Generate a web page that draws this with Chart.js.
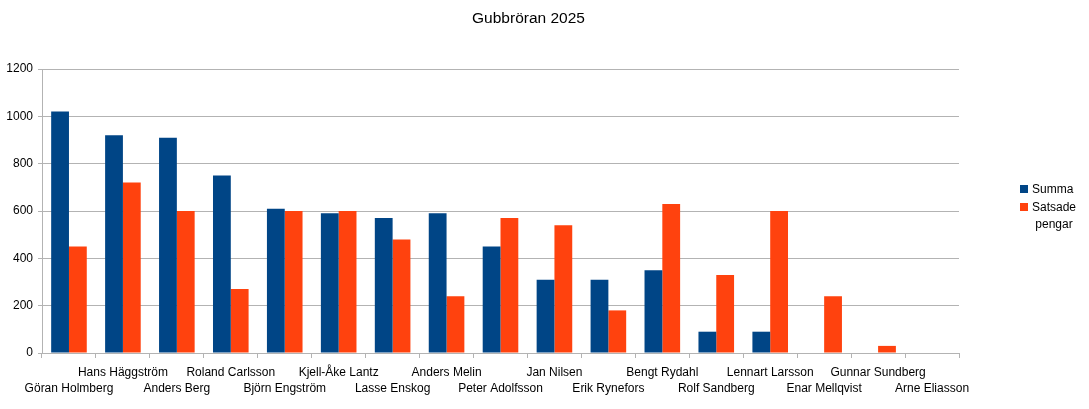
<!DOCTYPE html>
<html>
<head>
<meta charset="utf-8">
<script src="https://cdn.jsdelivr.net/npm/chart.js@4/dist/chart.umd.min.js"></script>
<style>
html,body{margin:0;padding:0;background:#fff;}
#wrap{position:relative;width:1089px;height:409px;}
</style>
</head>
<body>
<div id="wrap"><canvas id="c"></canvas></div>
<script>
const chartTitle = 'Gubbröran 2025';
const categories = ['Göran Holmberg','Hans Häggström','Anders Berg','Roland Carlsson','Björn Engström','Kjell-Åke Lantz','Lasse Enskog','Anders Melin','Peter Adolfsson','Jan Nilsen','Erik Rynefors','Bengt Rydahl','Rolf Sandberg','Lennart Larsson','Enar Mellqvist','Gunnar Sundberg','Arne Eliasson'];
const summa = [1020,920,910,750,610,590,570,590,450,310,310,350,90,90,0,0,0];
const satsade = [450,720,600,270,600,600,480,240,570,540,180,630,330,600,240,30,0];
const seriesNames = ['Summa','Satsade pengar'];
const yTicks = [0,200,400,600,800,1000,1200];

const FONT = "'Liberation Sans', Arial, sans-serif";
const GRID = '#b3b3b3';
const COLORS = ['#004586','#ff420e'];

const overlay = {
  id: 'overlay',
  afterDraw(chart) {
    const ctx = chart.ctx;
    ctx.save();
    ctx.fillStyle = '#000';
    ctx.font = '15.5px ' + FONT;
    ctx.textAlign = 'center';
    ctx.textBaseline = 'middle';
    ctx.fillText(chartTitle, 528.5, 19);
    // legend
    ctx.font = '12px ' + FONT;
    ctx.fillStyle = COLORS[0];
    ctx.fillRect(1020, 185, 8, 8);
    ctx.fillStyle = COLORS[1];
    ctx.fillRect(1020, 203, 8, 8);
    ctx.fillStyle = '#000';
    ctx.textAlign = 'left';
    ctx.fillText(seriesNames[0], 1032, 190);
    const parts = seriesNames[1].split(' ');
    const w0 = ctx.measureText(parts[0]).width;
    ctx.fillText(parts[0], 1032, 208);
    ctx.textAlign = 'center';
    ctx.fillText(parts[1], 1032 + w0/2, 225);
    ctx.restore();
  }
};

new Chart(document.getElementById('c'), {
  type: 'bar',
  data: {
    labels: categories,
    datasets: [
      {label: seriesNames[0], data: summa, backgroundColor: COLORS[0], borderWidth: 0, barPercentage: 1, categoryPercentage: 0.66},
      {label: seriesNames[1], data: satsade, backgroundColor: COLORS[1], borderWidth: 0, barPercentage: 1, categoryPercentage: 0.66}
    ]
  },
  options: {
    responsive: true,
    maintainAspectRatio: false,
    animation: false,
    layout: {padding: {left: 0, right: 130, top: 69, bottom: 0}},
    plugins: {legend: {display: false}, title: {display: false}, tooltip: {enabled: false}},
    scales: {
      x: {
        afterFit(s) { s.height = 56; },
        grid: {
          offset: true,
          drawOnChartArea: true,
          color: (c) => c.index === categories.length ? GRID : 'rgba(0,0,0,0)',
          tickColor: GRID,
          tickLength: 5,
          lineWidth: 1
        },
        border: {display: true, color: GRID},
        ticks: {
          autoSkip: false,
          maxRotation: 0,
          minRotation: 0,
          padding: 6,
          color: '#000',
          font: {family: FONT, size: 12, lineHeight: 1.38},
          callback: function(v, i) { return i % 2 === 1 ? [categories[i], ''] : ['', categories[i]]; }
        }
      },
      y: {
        min: 0,
        max: 1200,
        afterFit(s) { s.width = 42; },
        afterBuildTicks(s) { s.ticks = yTicks.map(v => ({value: v})); },
        grid: {color: GRID, tickColor: GRID, tickLength: 4, lineWidth: 1},
        border: {display: true, color: GRID},
        ticks: {padding: 5, color: '#000', font: {family: FONT, size: 12}, callback: (v) => String(v)}
      }
    }
  },
  plugins: [overlay]
});
</script>
</body>
</html>
